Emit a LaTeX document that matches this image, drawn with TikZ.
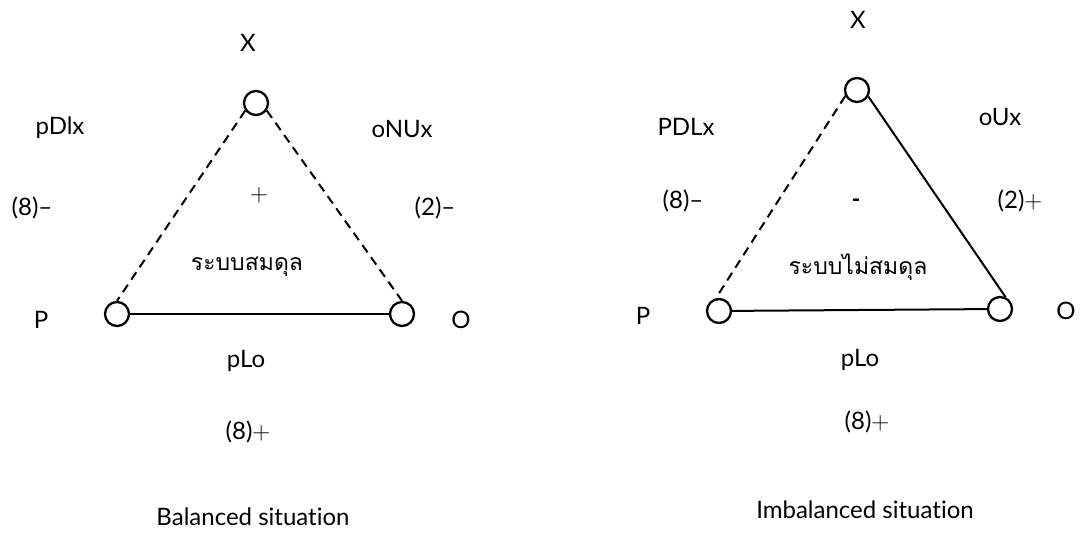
\documentclass[tikz,border=0pt]{standalone}
\usepackage{fontspec}
\setmainfont{Lato}[Ligatures=NoCommon]
\newfontfamily\thaifont[Script=Thai]{Loma}
\tikzset{
  vertex/.style={circle,draw,line width=2.3pt,minimum size=24pt,inner sep=0pt},
  lbl/.style={font=\fontsize{24}{28}\selectfont},
  thailbl/.style={font=\thaifont\fontsize{23}{27}\selectfont},
  tie/.style={line width=2pt},
  negtie/.style={tie,dash pattern=on 9pt off 6pt}
}
\begin{document}
\begin{tikzpicture}[x=1pt,y=-1pt]
  % Page frame
  \useasboundingbox (0,0) rectangle (1088,534);
  %
  % Balanced situation
  \node[vertex] (Xa) at (256,103) {};
  \node[vertex] (Pa) at (117,314) {};
  \node[vertex] (Oa) at (402,314) {};
  \draw[negtie] (Xa.-145) -- (Pa.north);
  \draw[negtie] (Xa.-35) -- (Oa.north);
  \draw[tie] (Pa) -- (Oa);
  \node[lbl] (xa) at (248,43) {X};
  \node[lbl] (pa) at (41,320) {P};
  \node[lbl] (oa) at (461,320) {O};
  \node[lbl] (pxa) at (60,128) {pDlx};
  \node[lbl] (oxa) at (402,129) {oNUx};
  \node[lbl] (pxsa) at (32,208) {(8)–};
  \node[lbl] (oxsa) at (435,208) {(2)–};
  \node[lbl] (signa) at (259,195) {$+$};
  \node[thailbl] (statea) at (247,267) {ระบบสมดุล};
  \node[lbl] (poa) at (246,361) {pLo};
  \node[lbl] (posa) at (248,432) {(8)$+$};
  \node[lbl] (titlea) at (253,517) {Balanced situation};
  %
  % Imbalanced situation
  \node[vertex] (Xb) at (857,90) {};
  \node[vertex] (Pb) at (719,311) {};
  \node[vertex] (Ob) at (1000,309) {};
  \draw[negtie] (Xb.-153) -- (Pb.104);
  \draw[tie] (Xb.-30) -- (Ob.65);
  \draw[tie] (Pb) -- (Ob);
  \node[lbl] (xb) at (858,20) {X};
  \node[lbl] (pb) at (643,316) {P};
  \node[lbl] (ob) at (1066,311) {O};
  \node[lbl] (pxb) at (686,127) {PDLx};
  \node[lbl] (oxb) at (1000,117) {oUx};
  \node[lbl] (pxsb) at (683,201) {(8)–};
  \node[lbl] (oxsb) at (1020,201) {(2)$+$};
  \node[lbl] (signb) at (856,203) {\textbf{-}};
  \node[thailbl] (stateb) at (858,267) {ระบบไม่สมดุล};
  \node[lbl] (pob) at (860,360) {pLo};
  \node[lbl] (posb) at (867,422) {(8)$+$};
  \node[lbl] (titleb) at (865,510) {Imbalanced situation};
  %
\end{tikzpicture}
\end{document}
